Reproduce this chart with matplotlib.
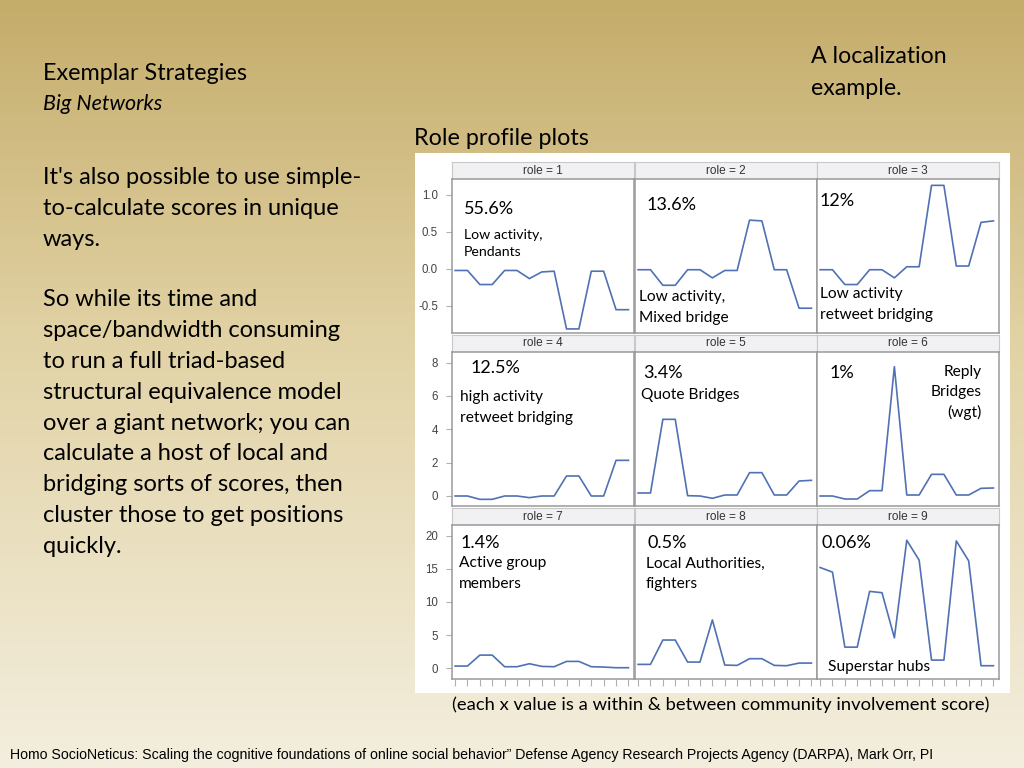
import numpy as np
import matplotlib
matplotlib.use("Agg")
import matplotlib.pyplot as plt
from matplotlib.patches import Rectangle

# role profile values (15 scores per role)
x = list(range(1, 16))
role1 = [-0.02, -0.02, -0.21, -0.21, -0.02, -0.02, -0.13, -0.04, -0.03, -0.81, -0.81, -0.03, -0.03, -0.55, -0.55]
role2 = [-0.01, -0.01, -0.22, -0.22, -0.01, -0.01, -0.12, -0.02, -0.02, 0.66, 0.65, -0.01, -0.01, -0.53, -0.53]
role3 = [-0.01, -0.01, -0.21, -0.21, -0.01, -0.01, -0.12, 0.03, 0.03, 1.13, 1.13, 0.04, 0.04, 0.63, 0.65]
role4 = [0.0, 0.0, -0.2, -0.2, 0.0, 0.0, -0.1, 0.0, 0.0, 1.2, 1.2, 0.0, 0.0, 2.14, 2.14]
role5 = [0.18, 0.18, 4.6, 4.6, 0.02, 0.0, -0.14, 0.06, 0.06, 1.4, 1.4, 0.06, 0.06, 0.9, 0.94]
role6 = [0.0, 0.0, -0.18, -0.18, 0.32, 0.32, 7.76, 0.06, 0.06, 1.3, 1.3, 0.06, 0.06, 0.46, 0.48]
role7 = [0.35, 0.35, 2.0, 2.0, 0.25, 0.25, 0.7, 0.3, 0.25, 1.05, 1.05, 0.25, 0.2, 0.1, 0.1]
role8 = [0.6, 0.6, 4.27, 4.27, 0.95, 0.95, 7.3, 0.5, 0.45, 1.46, 1.46, 0.45, 0.4, 0.8, 0.8]
role9 = [15.2, 14.5, 3.2, 3.2, 11.6, 11.4, 4.6, 19.3, 16.3, 1.25, 1.25, 19.2, 16.2, 0.4, 0.4]
roles = [role1, role2, role3, role4, role5, role6, role7, role8, role9]

pcts = ["55.6%", "13.6%", "12%", "12.5%", "3.4%", "1%", "1.4%", "0.5%", "0.06%"]
descs = ["Low activity,\nPendants", "Low activity,\nMixed bridge", "Low activity\nretweet bridging",
         "high activity\nretweet bridging", "Quote Bridges", "Reply\nBridges\n(wgt)",
         "Active group\nmembers", "Local Authorities,\nfighters", "Superstar hubs"]

row_ylims = [(-0.865, 1.216), (-0.6, 8.64), (-1.6, 21.6)]
row_yticks = [[-0.5, 0.0, 0.5, 1.0], [0, 2, 4, 6, 8], [0, 5, 10, 15, 20]]
row_ylabels = [["-0.5", "0.0", "0.5", "1.0"], ["0", "2", "4", "6", "8"], ["0", "5", "10", "15", "20"]]

W, H = 1024, 768
def box(l, t, r, b):
    return [l / W, 1 - b / H, (r - l) / W, (b - t) / H]

def fy(y):
    # slide pixel row -> figure fraction (small nudge for the Lato baseline)
    return 1 - (y + 1.5) / H

fig = plt.figure(figsize=(10.24, 7.68), dpi=100)

# slide background gradient
bg = fig.add_axes([0, 0, 1, 1], zorder=-5)
stops = np.array([[196, 172, 106], [226, 211, 166], [243, 238, 222]]) / 255
t = np.linspace(0, 1, 400)
grad = np.empty((400, 1, 3))
for c in range(3):
    grad[:, 0, c] = np.interp(t, [0, 0.45, 1], stops[:, c])
bg.imshow(grad, aspect="auto", extent=[0, 1, 0, 1])
bg.axis("off")

fig.add_artist(Rectangle((415 / W, 1 - 693 / H), 595 / W, 540 / H, transform=fig.transFigure,
                         facecolor="white", edgecolor="none", zorder=-1))

body = "Lato"
fig.text(43 / W, fy(72), "Exemplar Strategies", fontsize=16.8, family=body, va="center")
fig.text(43 / W, fy(102), "Big Networks", fontsize=15.5, family=body, style="italic", va="center")
para1 = ["It's also possible to use simple-", "to-calculate scores in unique", "ways."]
para2 = ["So while its time and", "space/bandwidth consuming", "to run a full triad-based",
         "structural equivalence model", "over a giant network; you can",
         "calculate a host of local and", "bridging sorts of scores, then",
         "cluster those to get positions", "quickly."]
for i, s in enumerate(para1):
    fig.text(43 / W, fy(176 + 31 * i), s, fontsize=17, family=body, va="center")
for i, s in enumerate(para2):
    fig.text(43 / W, fy(298 + 30.9 * i), s, fontsize=17, family=body, va="center")
fig.text(811 / W, fy(55), "A localization", fontsize=16.7, family=body, va="center")
fig.text(811 / W, fy(87), "example.", fontsize=16.7, family=body, va="center")
fig.text(414 / W, fy(137), "Role profile plots", fontsize=16.8, family=body, va="center")
fig.text(452 / W, fy(703), "(each x value is a within & between community involvement score)",
         fontsize=13.2, family=body, va="center")
fig.text(10 / W, 1 - 755 / H,
         "Homo SocioNeticus: Scaling the cognitive foundations of online social behavior\u201d "
         "Defense Agency Research Projects Agency (DARPA), Mark Orr, PI",
         fontsize=10.2, family="Liberation Sans", va="center")

col_l = [452, 635, 817]
col_r = [634, 817, 999]
rows = [(162, 179, 333), (335, 352, 506), (508, 525, 679)]
line_col = "#5071b4"

# text positions for the labels inside each panel (pixel coords on the slide)
pct_pos = [(464, 208), (647, 203), (820, 199), (471, 367), (643, 371), (830, 372), (461, 541), (647, 541), (822, 541)]
desc_pos = [(464, 242), (639, 306), (820, 303), (460, 406), (641, 393), (982, 391), (459, 572), (646, 572), (828, 665)]

for k, yv in enumerate(roles):
    r, c = divmod(k, 3)
    ht, pt, pb = rows[r]
    hax = fig.add_axes(box(col_l[c], ht, col_r[c], pt))
    hax.set_facecolor("#f1f1f3")
    hax.set_xticks([]); hax.set_yticks([])
    for sp in hax.spines.values():
        sp.set_color("#c8c8c8")
    hax.text(0.5, 0.5, "role = %d" % (k + 1), ha="center", va="center", fontsize=8.6,
             color="#333333", family="Liberation Sans", transform=hax.transAxes)

    ax = fig.add_axes(box(col_l[c], pt, col_r[c], pb))
    ax.plot(x, yv, color=line_col, lw=1.2)
    ax.set_xlim(0.75, 15.45)
    ax.set_ylim(row_ylims[r])
    for sp in ax.spines.values():
        sp.set_color("#9a9a9a")
        sp.set_linewidth(1.1)
    ax.set_xticks(x)
    ax.set_xticklabels([])
    if r == 2:
        ax.tick_params(axis="x", length=5, color="#b0b0b0", direction="out")
    else:
        ax.tick_params(axis="x", length=0)
    if c == 0:
        ax.set_yticks(row_yticks[r])
        ax.set_yticklabels(row_ylabels[r], fontsize=8.3, color="#444444", family="Liberation Sans")
        ax.tick_params(axis="y", length=4, color="#b0b0b0", pad=6)
    else:
        ax.set_yticks([])

    px, py = pct_pos[k]
    fig.text(px / W, fy(py), pcts[k], fontsize=13, family=body, va="center")
    dx, dy = desc_pos[k]
    ha = "right" if k == 5 else "left"
    fig.text(dx / W, fy(dy), descs[k], fontsize=10.2 if k == 0 else 11.2, family=body,
             va="center", ha=ha, linespacing=1.55)

fig.savefig("out.png", dpi=100)
